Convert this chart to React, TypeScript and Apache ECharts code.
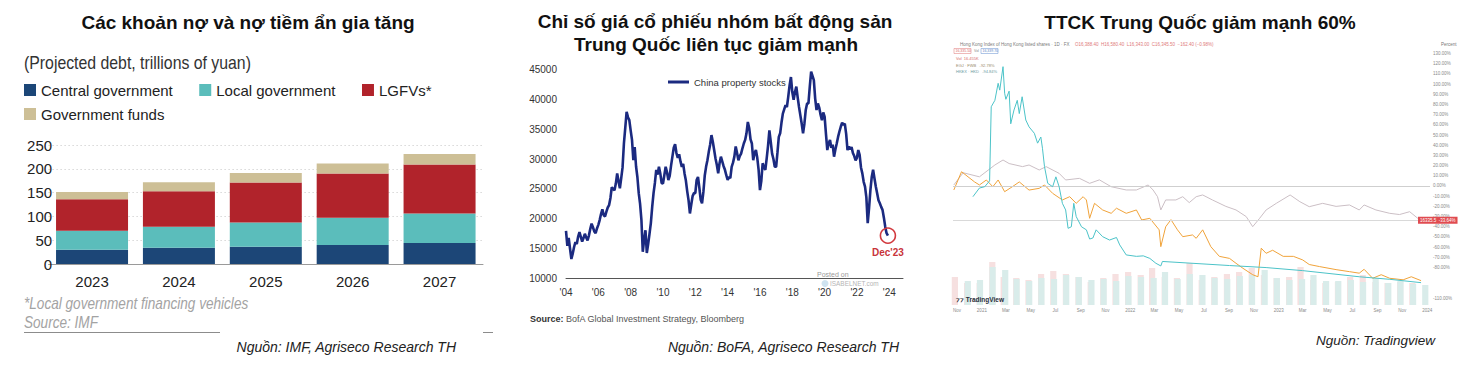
import React, { useEffect, useRef } from 'react';
import * as echarts from 'echarts';

// ---------- Panel 1: projected debt (trillions of yuan) ----------
const debtYears = ['2023', '2024', '2025', '2026', '2027'];
const centralGov = [30, 34, 36, 40, 44];
const localGov = [40, 44, 51, 57, 62];
const lgfvs = [66, 75, 84, 93, 103];
const govFunds = [15, 19, 20, 21, 22];

// ---------- Panel 2: China property stocks (monthly, 2004-2023) ----------
const propertyYears = [2004, 2005, 2006, 2007, 2008, 2009, 2010, 2011, 2012, 2013, 2014, 2015, 2016, 2017, 2018, 2019, 2020, 2021, 2022, 2023];
const propertyMonthly = [
  [18000, 15500, 16800, 15000, 13300, 14200, 15300, 16100, 15800, 17000, 17800, 17000],
  [16200, 16800, 17500, 16900, 16400, 17200, 18300, 19200, 18600, 17900, 17600, 18400],
  [19000, 19800, 20800, 21600, 20600, 20400, 21200, 21900, 22300, 23500, 25300, 25000],
  [24800, 25900, 27600, 26300, 25100, 26800, 28600, 32600, 35200, 37900, 37000, 36500],
  [34800, 33200, 29800, 32000, 28800, 27000, 24300, 22500, 19800, 14500, 16500, 18100],
  [14300, 15800, 17500, 19300, 22000, 24300, 26000, 28200, 27400, 28700, 27600, 26000],
  [25900, 27300, 28700, 27800, 26500, 27200, 28900, 30400, 31900, 32500, 31000, 30200],
  [30800, 29600, 28700, 29200, 27600, 26400, 24600, 23100, 20900, 22400, 23800, 24300],
  [24300, 26500, 27000, 25200, 23200, 22600, 24500, 27200, 28700, 29800, 31200, 32400],
  [34000, 32900, 31500, 30100, 29000, 27600, 29300, 30400, 29600, 28800, 28200, 27300],
  [26500, 27000, 26800, 28700, 29400, 30400, 32100, 31000, 29800, 30500, 30900, 31800],
  [32600, 33200, 34300, 36200, 35200, 33300, 32600, 29800, 31000, 31500, 30200, 28200],
  [24800, 26300, 29300, 28600, 28200, 30100, 32200, 34800, 32900, 30900, 30000, 28700],
  [28700, 31100, 33700, 34300, 36100, 37600, 38300, 39000, 38700, 40400, 42300, 43700],
  [41200, 39900, 41200, 42100, 40300, 38700, 37300, 35900, 34300, 35900, 38200, 39300],
  [39300, 42100, 44600, 43900, 43200, 40100, 38200, 39300, 38600, 37400, 36500, 37800],
  [37100, 34200, 31500, 32600, 33200, 31900, 32400, 30400, 31600, 32600, 33700, 34600],
  [35400, 36100, 35700, 35900, 34200, 31500, 32100, 31600, 32000, 31000, 30500, 29800],
  [30200, 31500, 30700, 28600, 27600, 26200, 25400, 23600, 19300, 21800, 24800, 27000],
  [28200, 26800, 25400, 24300, 23100, 22600, 22000, 21500, 20200, 18700, 17600, 17200],
];
const propertyTickYears = [2004, 2006, 2008, 2010, 2012, 2014, 2016, 2018, 2020, 2022, 2024];

// ---------- Panel 3: TradingView comparison (% change) ----------
const hsiPct: [string, number][] = [
  ['2020-10-24', 1], ['2020-11-16', 13], ['2020-12-26', 9], ['2021-02-02', 20.6], ['2021-02-22', 25.5],
  ['2021-03-09', 22], ['2021-04-11', 19], ['2021-04-27', 20.6], ['2021-05-22', 15.7], ['2021-06-08', 19],
  ['2021-07-10', 12.4], ['2021-07-26', 5.9], ['2021-08-29', 7.5], ['2021-09-23', 2.6], ['2021-10-17', 6],
  ['2021-11-15', -0.7], ['2021-12-22', -3.9], ['2022-01-16', -3.9], ['2022-02-14', 1], ['2022-02-26', -3.9],
  ['2022-03-09', -10.5], ['2022-03-17', -23.5], ['2022-03-29', -13.7], ['2022-04-23', -13.7], ['2022-05-10', -10.5],
  ['2022-05-26', -16.3], ['2022-06-12', -10.5], ['2022-06-28', -8.8], ['2022-07-22', -13.7], ['2022-08-24', -20],
  ['2022-09-18', -23.5], ['2022-10-13', -30], ['2022-10-29', -39.9], ['2022-11-15', -31.7], ['2022-12-01', -23.5],
  ['2022-12-26', -17], ['2023-01-29', -8.8], ['2023-02-22', -15.4], ['2023-03-17', -20.3], ['2023-04-19', -17],
  ['2023-05-22', -20], ['2023-06-24', -18.6], ['2023-07-18', -23.5], ['2023-07-30', -18.6], ['2023-08-28', -23.5],
  ['2023-10-01', -26.8], ['2023-10-25', -28], ['2023-11-19', -25.2], ['2023-12-09', -31.7], ['2023-12-17', -33.6],
];
const egjPct: [string, number][] = [
  ['2020-10-24', -3.9], ['2020-11-12', 14], ['2020-11-28', 9], ['2020-12-14', 4], ['2020-12-26', 1],
  ['2021-01-12', 5.9], ['2021-01-28', -0.7], ['2021-02-10', 5.9], ['2021-02-26', -5.6], ['2021-03-17', -0.7],
  ['2021-04-03', 4], ['2021-04-27', -4], ['2021-05-22', -2.3], ['2021-06-04', 1], ['2021-06-24', -7.2],
  ['2021-07-18', -13.7], ['2021-08-05', -10.5], ['2021-08-21', -17], ['2021-09-07', -10.5], ['2021-09-15', -13.7],
  ['2021-09-23', -31.7], ['2021-10-05', -17], ['2021-10-25', -23.5], ['2021-11-15', -26.8], ['2021-11-28', -21.8],
  ['2021-12-22', -26.8], ['2022-01-16', -23.5], ['2022-01-29', -33.3], ['2022-02-18', -31.7], ['2022-03-13', -43],
  ['2022-03-17', -59.5], ['2022-03-29', -40], ['2022-04-11', -33], ['2022-04-27', -43], ['2022-05-10', -49.7],
  ['2022-06-03', -48], ['2022-06-12', -51.3], ['2022-06-28', -43], ['2022-07-18', -59.5], ['2022-08-08', -69],
  ['2022-09-02', -71], ['2022-09-18', -75.8], ['2022-10-05', -80.7], ['2022-10-29', -87], ['2022-11-11', -89],
  ['2022-11-19', -61], ['2022-12-01', -66], ['2022-12-17', -63], ['2023-01-12', -69], ['2023-02-06', -69],
  ['2023-03-01', -72.5], ['2023-03-17', -77], ['2023-04-11', -79], ['2023-05-22', -82], ['2023-06-24', -84],
  ['2023-07-18', -85.5], ['2023-07-30', -81.7], ['2023-08-20', -90.5], ['2023-09-10', -87], ['2023-10-01', -90.5],
  ['2023-11-03', -92], ['2023-11-23', -89], ['2023-12-17', -92.8],
];
const hkexPct: [string, number][] = [
  ['2020-12-10', -10.5], ['2020-12-26', -2], ['2021-01-08', -0.7], ['2021-01-20', 5], ['2021-01-24', 77.7],
  ['2021-02-02', 84], ['2021-02-10', 100.7], ['2021-02-14', 94], ['2021-02-22', 117], ['2021-02-26', 91],
  ['2021-03-01', 85], ['2021-03-09', 93], ['2021-03-13', 61], ['2021-03-21', 74.5], ['2021-03-29', 84],
  ['2021-04-03', 71], ['2021-04-10', 87.5], ['2021-04-19', 64.7], ['2021-04-27', 58], ['2021-05-10', 51.7],
  ['2021-05-18', 42], ['2021-05-26', 48], ['2021-05-30', 37], ['2021-06-04', 19], ['2021-06-12', 2.6],
  ['2021-06-24', -0.7], ['2021-07-02', 9], ['2021-07-10', -0.7], ['2021-07-18', -17], ['2021-07-26', -23.5],
  ['2021-08-01', -41.5], ['2021-08-09', -40], ['2021-08-15', -17], ['2021-08-21', -30], ['2021-09-03', -40],
  ['2021-09-15', -43], ['2021-09-23', -52], ['2021-10-01', -51], ['2021-10-09', -43], ['2021-10-25', -49.7],
  ['2021-11-11', -53], ['2021-11-28', -50.5], ['2021-12-06', -57.8], ['2021-12-22', -67.6], ['2022-01-16', -69],
  ['2022-02-02', -68.5], ['2022-02-18', -71], ['2022-03-05', -75.8], ['2022-03-17', -78.4], ['2022-03-21', -74],
  ['2022-09-02', -78], ['2022-12-01', -80], ['2023-03-01', -83], ['2023-07-18', -89], ['2023-10-01', -91.5],
  ['2023-12-17', -94.8],
];
const volumeMonths = [
  '2020-11', '2020-12', '2021-01', '2021-02', '2021-03', '2021-04', '2021-05', '2021-06', '2021-07', '2021-08',
  '2021-09', '2021-10', '2021-11', '2021-12', '2022-01', '2022-02', '2022-03', '2022-04', '2022-05', '2022-06',
  '2022-07', '2022-08', '2022-09', '2022-10', '2022-11', '2022-12', '2023-01', '2023-02', '2023-03', '2023-04',
  '2023-05', '2023-06', '2023-07', '2023-08', '2023-09', '2023-10', '2023-11', '2023-12',
];
const volumeFirstHalf = [28, 22, 22, 43, 28, 27, 25, 31, 34, 31, 28, 23, 27, 31, 33, 30, 37, 28, 27, 42, 25, 28, 31, 33, 37, 30, 27, 28, 38, 25, 22, 23, 28, 30, 23, 22, 23, 22];
const volumeSecondHalf = [24, 25, 38, 35, 26, 24, 27, 26, 30, 28, 25, 26, 24, 29, 28, 27, 33, 26, 31, 30, 27, 26, 29, 30, 35, 27, 25, 26, 30, 24, 24, 25, 23, 27, 22, 24, 21, 20];
const tvTickDates = ['2020-11-01', '2021-01-01', '2021-03-01', '2021-05-01', '2021-07-01', '2021-09-01', '2021-11-01',
  '2022-01-01', '2022-03-01', '2022-05-01', '2022-07-01', '2022-09-01', '2022-11-01',
  '2023-01-01', '2023-03-01', '2023-05-01', '2023-07-01', '2023-09-01', '2023-11-01', '2024-01-01'];
// -90% and -100% are covered by the price tags in the original
const tvPctTicks = [-110, -80, -70, -60, -50, -40, -30, -20, -10, 0, 10, 20, 30, 40, 50, 60, 70, 80, 90, 100, 110, 120, 130];
const monthShort = ['Jan', 'Feb', 'Mar', 'Apr', 'May', 'Jun', 'Jul', 'Aug', 'Sep', 'Oct', 'Nov', 'Dec'];

const SANS = '"Liberation Sans", Arial, sans-serif';

const ts = (d: string) => Date.parse(d + 'T00:00:00Z');

function txt(x: number, y: number, text: string, font: string, fill: string, align = 'left', extra: any = {}, el: any = {}) {
  return {
    type: 'text', x, y, silent: true, z: 100, ...el,
    style: { text, font, fill, align, verticalAlign: 'middle', textAlign: align, textVerticalAlign: 'middle', ...extra },
  };
}

export default function App() {
  const ref = useRef<HTMLDivElement>(null);
  useEffect(() => {
    if (!ref.current) return;
    const chart = echarts.init(ref.current, undefined, { renderer: 'svg' });

    const propertyData: [number, number][] = [];
    propertyYears.forEach((y, i) => propertyMonthly[i].forEach((v, m) => propertyData.push([y + m / 12, v])));
    const lastProp = propertyData[propertyData.length - 1];

    const toTs = (arr: [string, number][]) => arr.map(([d, v]) => [ts(d), v]);
    const volA = volumeMonths.map((m, i) => [ts(m + '-04'), volumeFirstHalf[i]]);
    const volB = volumeMonths.map((m, i) => [ts(m + '-19'), volumeSecondHalf[i]]);
    const lastHsi = hsiPct[hsiPct.length - 1][1];
    const lastEgj = egjPct[egjPct.length - 1][1];
    const lastHkex = hkexPct[hkexPct.length - 1][1];

    const option: any = {
      animation: false,
      backgroundColor: '#ffffff',
      textStyle: { fontFamily: SANS },
      grid: [
        { left: 48.6, top: 145, width: 434.4, height: 119 },
        { left: 566, top: 69.3, width: 337, height: 209.4 },
        { left: 953, top: 42, width: 477, height: 263 },
      ],
      legend: [
        {
          data: ['Central government', 'Local government', 'LGFVs*'], left: 19, top: 77.5,
          icon: 'rect', itemWidth: 12, itemHeight: 12, itemGap: 26.5,
          textStyle: { fontFamily: SANS, fontSize: 15, color: '#222' },
        },
        {
          data: ['Government funds'], left: 19, top: 101.5,
          icon: 'rect', itemWidth: 12, itemHeight: 12,
          textStyle: { fontFamily: SANS, fontSize: 15, color: '#222' },
        },
        {
          data: ['China property stocks'], left: 663, top: 72,
          icon: 'rect', itemWidth: 21, itemHeight: 3, itemGap: 2,
          textStyle: { fontFamily: SANS, fontSize: 9.5, color: '#333' },
        },
      ],
      xAxis: [
        {
          type: 'category', gridIndex: 0, data: debtYears,
          axisLine: { lineStyle: { color: '#9a9a9a', width: 1 } },
          axisTick: { alignWithLabel: true, length: 4, lineStyle: { color: '#9a9a9a' } },
          axisLabel: { fontSize: 15, color: '#222', margin: 10 },
        },
        {
          type: 'value', gridIndex: 1, min: 2004, max: 2024.85,
          axisLine: { lineStyle: { color: '#555', width: 1 } },
          axisTick: { show: false }, splitLine: { show: false },
          axisLabel: {
            customValues: propertyTickYears, fontSize: 10, color: '#333', margin: 9,
            formatter: (v: number) => "'" + String(v).slice(2),
          },
        },
        {
          type: 'value', gridIndex: 2, min: ts('2020-10-22'), max: ts('2024-01-08'),
          axisLine: { show: false }, axisTick: { show: false }, splitLine: { show: false },
          axisLabel: {
            customValues: tvTickDates.map(ts),
            fontSize: 4.5, color: '#8a8a8a', margin: 3,
            formatter: (v: number) => { const d = new Date(v); return d.getUTCMonth() === 0 ? String(d.getUTCFullYear()) : monthShort[d.getUTCMonth()]; },
          },
        },
      ],
      yAxis: [
        {
          type: 'value', gridIndex: 0, min: 0, max: 250, interval: 50,
          axisLine: { show: false }, axisTick: { show: false },
          axisLabel: { fontSize: 15, color: '#222', margin: -3.5 },
          splitLine: { lineStyle: { color: '#c4c4c4', type: [1, 3], width: 1 } },
        },
        {
          type: 'value', gridIndex: 1, min: 10000, max: 45000, interval: 5000,
          axisLine: { show: false }, axisTick: { show: false }, splitLine: { show: false },
          axisLabel: { fontSize: 10, color: '#333', margin: 9, formatter: (v: number) => String(v) },
        },
        {
          type: 'value', gridIndex: 2, position: 'right', min: -116.7, max: 141.2,
          axisLine: { show: false }, axisTick: { show: false }, splitLine: { show: false },
          axisLabel: {
            customValues: tvPctTicks, fontSize: 4.5, color: '#8a8a8a', margin: 3,
            formatter: (v: number) => v.toFixed(2) + '%',
          },
        },
        { type: 'value', gridIndex: 2, min: 0, max: 263, show: false },
      ],
      series: [
        { name: 'Central government', type: 'bar', stack: 'debt', xAxisIndex: 0, yAxisIndex: 0, barWidth: 72, data: centralGov, itemStyle: { color: '#1c4677' } },
        { name: 'Local government', type: 'bar', stack: 'debt', xAxisIndex: 0, yAxisIndex: 0, barWidth: 72, data: localGov, itemStyle: { color: '#5bbdbb' } },
        { name: 'LGFVs*', type: 'bar', stack: 'debt', xAxisIndex: 0, yAxisIndex: 0, barWidth: 72, data: lgfvs, itemStyle: { color: '#b1232b' } },
        { name: 'Government funds', type: 'bar', stack: 'debt', xAxisIndex: 0, yAxisIndex: 0, barWidth: 72, data: govFunds, itemStyle: { color: '#cdbf96' } },
        {
          name: 'China property stocks', type: 'line', xAxisIndex: 1, yAxisIndex: 1, data: propertyData,
          showSymbol: false, symbol: 'none', lineStyle: { color: '#1b2a80', width: 2.6 }, itemStyle: { color: '#1b2a80' },
          markPoint: {
            silent: true,
            data: [{
              coord: lastProp, symbol: 'circle', symbolSize: 15,
              itemStyle: { color: 'rgba(0,0,0,0)', borderColor: '#d23a3f', borderWidth: 1.6 },
              label: { show: true, position: 'bottom', distance: 4, formatter: "Dec'23", color: '#c8333a', fontWeight: 'bold', fontSize: 10 },
            }],
          },
        },
        { name: 'Volume up', type: 'bar', xAxisIndex: 2, yAxisIndex: 3, barWidth: 6.2, data: volA, itemStyle: { color: '#f6e0e0' }, silent: true },
        { name: 'Volume down', type: 'bar', xAxisIndex: 2, yAxisIndex: 3, barWidth: 6.2, data: volB, itemStyle: { color: '#d9ecea' }, silent: true },
        {
          name: 'HSI', type: 'line', xAxisIndex: 2, yAxisIndex: 2, data: toTs(hsiPct), symbol: 'none',
          lineStyle: { color: '#cbbfc5', width: 1 }, z: 3,
          markLine: {
            silent: true, symbol: 'none',
            data: [
              { yAxis: 0, lineStyle: { color: '#cfcfcf', width: 1, type: 'solid' }, label: { show: false } },
              {
                yAxis: lastHsi, lineStyle: { color: '#d9d9d9', width: 1, type: 'solid' },
                label: { show: true, position: 'end', distance: -12, formatter: '16335.5  -33.64%', fontSize: 4.5, color: '#fff', backgroundColor: '#e04b50', padding: [1, 2] },
              },
            ],
          },
        },
        {
          name: 'EGJ', type: 'line', xAxisIndex: 2, yAxisIndex: 2, data: toTs(egjPct), symbol: 'none',
          lineStyle: { color: '#f0a33a', width: 1 }, z: 4,
          markLine: {
            silent: true, symbol: 'none',
            data: [{
              yAxis: lastEgj, lineStyle: { opacity: 0 },
              label: { show: true, position: 'end', distance: -12, offset: [0, -2], formatter: 'EGJ  -92.78%', fontSize: 4.5, color: '#fff', backgroundColor: '#f0a33a', padding: [1, 2] },
            }],
          },
        },
        {
          name: 'HKEX', type: 'line', xAxisIndex: 2, yAxisIndex: 2, data: toTs(hkexPct), symbol: 'none',
          lineStyle: { color: '#4cc3c8', width: 1 }, z: 5,
          markLine: {
            silent: true, symbol: 'none',
            data: [{
              yAxis: lastHkex, lineStyle: { opacity: 0 },
              label: { show: true, position: 'end', distance: -12, offset: [0, 3], formatter: 'HKEX  -94.84%', fontSize: 4.5, color: '#fff', backgroundColor: '#22a8b0', padding: [1, 2] },
            }],
          },
        },
      ],
      graphic: [
        txt(248, 22, 'Các khoản nợ và nợ tiềm ẩn gia tăng', `bold 19px ${SANS}`, '#111', 'center'),
        txt(715, 21, 'Chỉ số giá cổ phiếu nhóm bất động sản', `bold 19px ${SANS}`, '#111', 'center'),
        txt(716, 44, 'Trung Quốc liên tục giảm mạnh', `bold 19px ${SANS}`, '#111', 'center'),
        txt(1200, 22, 'TTCK Trung Quốc giảm mạnh 60%', `bold 19px ${SANS}`, '#111', 'center'),
        txt(24, 63, '(Projected debt, trillions of yuan)', `18px ${SANS}`, '#333', 'left', {}, { scaleX: 0.88 }),
        txt(24, 304, '*Local government financing vehicles', `italic 16px ${SANS}`, '#a3a3a3', 'left', {}, { scaleX: 0.85 }),
        txt(24, 323, 'Source: IMF', `italic 16px ${SANS}`, '#a3a3a3', 'left', {}, { scaleX: 0.85 }),
        { type: 'line', silent: true, shape: { x1: 24, y1: 332.5, x2: 220, y2: 332.5 }, style: { stroke: '#8c8c8c', lineWidth: 1 } },
        { type: 'line', silent: true, shape: { x1: 483, y1: 332.5, x2: 493, y2: 332.5 }, style: { stroke: '#8c8c8c', lineWidth: 1 } },
        txt(456, 347, 'Nguồn: IMF, Agriseco Research TH', `italic 14px ${SANS}`, '#222', 'right'),
        {
          type: 'text', x: 530, y: 319, silent: true,
          style: {
            text: '{b|Source:} BofA Global Investment Strategy, Bloomberg', font: `9px ${SANS}`, fill: '#555',
            verticalAlign: 'middle', textVerticalAlign: 'middle',
            rich: { b: { fontWeight: 'bold', fontSize: 9, fontFamily: SANS, fill: '#333', color: '#333' } },
          },
        },
        txt(817, 274, 'Posted on', `7px ${SANS}`, '#9a9a9a'),
        { type: 'circle', silent: true, shape: { cx: 825, cy: 283.5, r: 3.5 }, style: { fill: '#cfe3f0' } },
        txt(830, 283.5, 'ISABELNET.com', `7px ${SANS}`, '#b5b5b5', 'left', {}, { scaleX: 0.92 }),
        txt(899, 347, 'Nguồn: BoFA, Agriseco Research TH', `italic 14px ${SANS}`, '#222', 'right'),
        txt(960, 44, 'Hong Kong Index of Hong Kong listed shares · 1D · FX', `4.5px ${SANS}`, '#7a7a7a'),
        txt(1075, 44, 'O16,388.40  H16,580.40  L16,343.00  C16,345.50  −162.40 (−0.98%)', `4.5px ${SANS}`, '#e07a7a'),
        { type: 'rect', silent: true, shape: { x: 954, y: 48.5, width: 17, height: 5 }, style: { fill: '#fff', stroke: '#e48a8a', lineWidth: 0.6 } },
        txt(955.5, 51, '16,335.50', `3.5px ${SANS}`, '#d86a6a'),
        txt(974, 51, 'Vol', `3.5px ${SANS}`, '#888'),
        { type: 'rect', silent: true, shape: { x: 981, y: 48.5, width: 17, height: 5 }, style: { fill: '#fff', stroke: '#7a9fd6', lineWidth: 0.6 } },
        txt(982.5, 51, '16,339.70', `3.5px ${SANS}`, '#5b84c6'),
        txt(956, 58, 'Vol  16.455K', `4px ${SANS}`, '#d86a6a'),
        txt(956, 65, 'EGJ · FWB   -92.78%', `4px ${SANS}`, '#9a8a6a'),
        txt(956, 71, 'HKEX · HKD   -94.84%', `4px ${SANS}`, '#6a9aa0'),
        txt(1441, 44, 'Percent', `4.5px ${SANS}`, '#777'),
        txt(956, 299.5, '⁊⁊ TradingView', `bold 6.5px ${SANS}`, '#2a2e39'),
        txt(1435, 340, 'Nguồn: Tradingview', `italic 13.5px ${SANS}`, '#222', 'right'),
      ],
    };
    chart.setOption(option);
    return () => chart.dispose();
  }, []);
  return (
    <div
      ref={ref}
      style={{ position: 'absolute', left: 0, top: 0, width: 1461, height: 368, background: '#fff' }}
    />
  );
}
